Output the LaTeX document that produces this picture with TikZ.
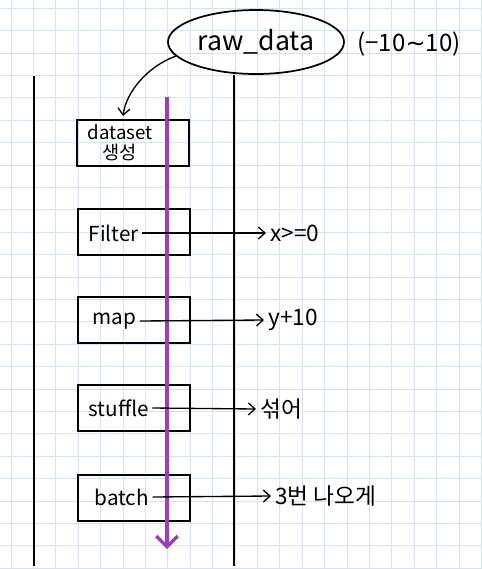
\documentclass[tikz,border=0pt]{standalone}
\usepackage{fontspec}
\setmainfont{Noto Sans CJK KR}
\newfontfamily\symfont{DejaVu Sans}
\usetikzlibrary{shapes.geometric,arrows.meta}
\definecolor{gridc}{HTML}{D6E2EE}
\definecolor{purp}{HTML}{9A3FB8}
\tikzset{
  gridline/.style={draw=gridc, line width=0.7pt},
  wall/.style={draw=black, line width=2.2pt},
  stepbox/.style={draw=black, line width=1.3pt, minimum width=84pt, minimum height=34pt, inner sep=0pt},
  boxtext/.style={anchor=west, inner xsep=2.5pt, inner ysep=0pt, font=\fontsize{15.5}{17}\selectfont},
  outlabel/.style={anchor=west, inner xsep=3pt, inner ysep=0pt, font=\fontsize{17}{19}\selectfont},
  thinarrow/.style={draw=black, line width=1pt, -{Straight Barb[length=5pt,width=9pt,line width=1pt]}},
}
\begin{document}
\begin{tikzpicture}[x=0.75pt,y=-0.75pt]
\useasboundingbox (0,0) rectangle (482,569);
\fill[white] (0,0) rectangle (482,569);
% grid
\foreach \i in {0,...,21} { \draw[gridline] ({11.1+22.4*\i},0) -- ({11.1+22.4*\i},569); }
\foreach \j in {0,...,25} { \draw[gridline] (0,{8.3+22.4*\j}) -- (482,{8.3+22.4*\j}); }

% ellipse and range
\node[ellipse, draw=black, line width=1.3pt, minimum width=132pt, minimum height=48pt, inner sep=0pt,
  font=\fontsize{20}{22}\selectfont] (raw) at (256,42) {raw\_data};
\node[font=\fontsize{18}{20}\selectfont] (range) at (409,44) {(−10{\symfont ∼}10)};

% walls
\coordinate (lwtop) at (34,76);
\coordinate (lwbot) at (34,566);
\coordinate (rwbot) at (234,566);
\draw[wall] (lwtop) -- (lwbot);
\draw[wall] (raw.south -| rwbot) -- (rwbot);

% boxes
\node[stepbox] (ds) at (133,143) {};
\node[stepbox] (fb) at (134,232) {};
\node[stepbox] (mb) at (134,320) {};
\node[stepbox] (sb) at (134,408) {};
\node[stepbox] (bb) at (134,498) {};

% purple flow
\coordinate (ptop) at (167,97);
\coordinate (pbot) at (167,549);
\draw[draw=purp, line width=2.4pt, -{Straight Barb[length=8pt,width=16pt,line width=2.4pt]}] (ptop) -- (pbot);

% texts in boxes
\node[align=center, inner sep=0pt, font=\fontsize{14}{15}\selectfont] (dst) at (120,143) {dataset\\생성};
\node[boxtext] (ft) at (85,233) {Filter};
\node[boxtext] (mt) at (89,321) {map};
\node[boxtext] (st) at (85,408) {stuffle};
\node[boxtext] (bt) at (91,497) {batch};

% out labels
\node[outlabel] (fl) at (266,233) {x>=0};
\node[outlabel] (ml) at (264,320) {y+10};
\node[outlabel] (sl) at (256,409) {섞어};
\node[outlabel] (bl) at (271,496) {3번 나오게};

\draw[thinarrow] (ft.east) -- (fl.west);
\draw[thinarrow] (mt.east) -- (ml.west);
\draw[thinarrow] (st.east) -- (sl.west);
\draw[thinarrow] (bt.east) -- (bl.west);

% curved arrow from raw_data
\coordinate (dstip) at (123,116);
\draw[thinarrow] (raw.190) .. controls (148,66) and (126,92) .. (dstip);
\end{tikzpicture}
\end{document}
